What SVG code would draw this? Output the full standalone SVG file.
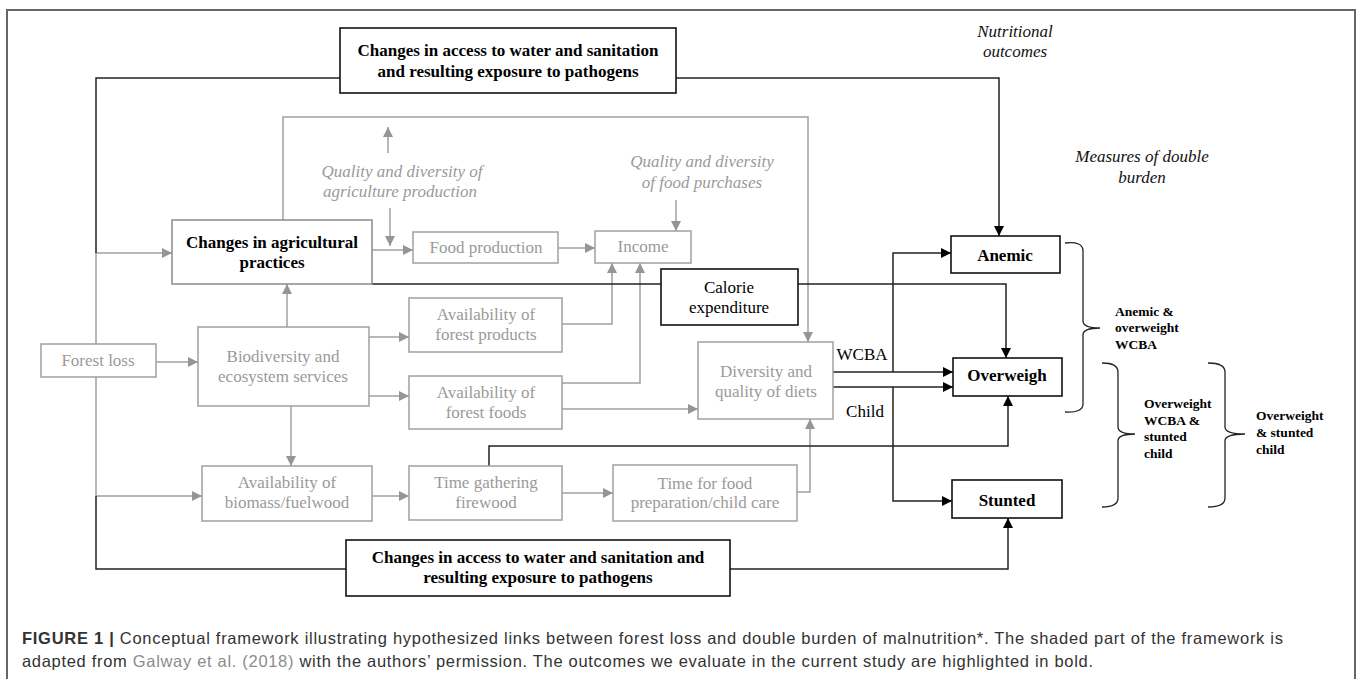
<svg xmlns="http://www.w3.org/2000/svg" width="1357" height="679" viewBox="0 0 1357 679">
<style>
.gb{fill:#fff;stroke:#a0a0a0;stroke-width:1.5}
.bb{fill:#fff;stroke:#111;stroke-width:1.6}
.gt{font-family:"Liberation Serif",serif;font-size:17px;fill:#9a9a9a;text-anchor:middle}
.bt{font-family:"Liberation Serif",serif;font-size:17px;fill:#000;text-anchor:middle;font-weight:bold}
.nt{font-family:"Liberation Serif",serif;font-size:17px;fill:#000;text-anchor:middle}
.it{font-family:"Liberation Serif",serif;font-size:17px;font-style:italic;text-anchor:middle}
.bl{font-family:"Liberation Serif",serif;font-size:13.5px;font-weight:bold;fill:#000}
.gc{fill:none;stroke:#a0a0a0;stroke-width:1.5}
.kc{fill:none;stroke:#222;stroke-width:1.5}
.br{fill:none;stroke:#222;stroke-width:1.3}
.cap{font-family:"Liberation Sans",Arial,sans-serif;font-size:16.5px;fill:#333}
</style>
<defs>
<marker id="ag" viewBox="0 0 10 10" refX="10" refY="5" markerWidth="10" markerHeight="10" markerUnits="userSpaceOnUse" orient="auto"><path d="M0,0 L10,5 L0,10 z" fill="#959595"/></marker>
<marker id="ak" viewBox="0 0 10 10" refX="10" refY="5" markerWidth="10" markerHeight="10" markerUnits="userSpaceOnUse" orient="auto"><path d="M0,0 L10,5 L0,10 z" fill="#000"/></marker>
</defs>
<rect x="0" y="0" width="1357" height="679" fill="#fff"/>
<rect x="7" y="10" width="1348" height="700" fill="none" stroke="#666" stroke-width="2"/>

<g id="connectors">
<path class="gc" d="M96,377 V253 H172" marker-end="url(#ag)"/>
<path class="gc" d="M96,377 V496 H202" marker-end="url(#ag)"/>
<path class="gc" d="M156,362 H198" marker-end="url(#ag)"/>
<path class="gc" d="M287,327 V284" marker-end="url(#ag)"/>
<path class="gc" d="M369,337 H409" marker-end="url(#ag)"/>
<path class="gc" d="M369,396 H409" marker-end="url(#ag)"/>
<path class="gc" d="M291,406 V466" marker-end="url(#ag)"/>
<path class="gc" d="M372,496 H409" marker-end="url(#ag)"/>
<path class="gc" d="M562,493 H613" marker-end="url(#ag)"/>
<path class="gc" d="M797,492 H810 V419" marker-end="url(#ag)"/>
<path class="gc" d="M562,324 H612 V263" marker-end="url(#ag)"/>
<path class="gc" d="M562,383 H640 V263" marker-end="url(#ag)"/>
<path class="gc" d="M562,409 H698" marker-end="url(#ag)"/>
<path class="gc" d="M372,250 H413" marker-end="url(#ag)"/>
<path class="gc" d="M558,248 H595" marker-end="url(#ag)"/>
<path class="gc" d="M283,220 V117 H808 V342" marker-end="url(#ag)"/>
<path class="gc" d="M388,153 V127" marker-end="url(#ag)"/>
<path class="gc" d="M390,208 V246" marker-end="url(#ag)"/>
<path class="gc" d="M676,200 V231" marker-end="url(#ag)"/>

<path class="kc" d="M340,78 H96 V253"/>
<path class="kc" d="M676,78 H999 V236" marker-end="url(#ak)"/>
<path class="kc" d="M372,284 H661"/>
<path class="kc" d="M798,284 H1006 V358" marker-end="url(#ak)"/>
<path class="kc" d="M833,372 H953" marker-end="url(#ak)"/>
<path class="kc" d="M893,372 V253 H951" marker-end="url(#ak)"/>
<path class="kc" d="M833,387 H953" marker-end="url(#ak)"/>
<path class="kc" d="M893,387 V501 H952" marker-end="url(#ak)"/>
<path class="kc" d="M489,466 V446 H1008 V396" marker-end="url(#ak)"/>
<path class="kc" d="M96,496 V569 H346"/>
<path class="kc" d="M730,569 H1008 V518" marker-end="url(#ak)"/>
</g>

<g id="water-top"><rect class="bb" x="340" y="28" width="336" height="65"/>
<text class="bt" x="508" y="56">Changes in access to water and sanitation</text>
<text class="bt" x="508" y="77">and resulting exposure to pathogens</text></g>

<g id="label-nutritional"><text class="it" x="1015" y="37" fill="#111">Nutritional</text><text class="it" x="1015" y="57" fill="#111">outcomes</text></g>
<g id="label-measures"><text class="it" x="1142" y="162" fill="#111">Measures of double</text><text class="it" x="1142" y="183" fill="#111">burden</text></g>
<g id="label-quality-agri"><text class="it" x="402" y="177" fill="#9a9a9a">Quality and diversity of</text><text class="it" x="400" y="197" fill="#9a9a9a">agriculture production</text></g>
<g id="label-quality-food"><text class="it" x="702" y="167" fill="#9a9a9a">Quality and diversity</text><text class="it" x="702" y="188" fill="#9a9a9a">of food purchases</text></g>

<g id="agric"><rect class="gb" x="172" y="220" width="200" height="64" style="stroke:#8a8a8a"/>
<text class="bt" x="272" y="248">Changes in agricultural</text><text class="bt" x="272" y="268">practices</text></g>
<g id="food-production"><rect class="gb" x="413" y="232" width="145" height="31"/><text class="gt" x="486" y="253">Food production</text></g>
<g id="income"><rect class="gb" x="595" y="231" width="96" height="32"/><text class="gt" x="643" y="252">Income</text></g>
<g id="calorie"><rect class="bb" x="661" y="269" width="137" height="56"/><text class="nt" x="729" y="293">Calorie</text><text class="nt" x="729" y="313">expenditure</text></g>
<g id="forest-loss"><rect class="gb" x="41" y="344" width="115" height="33"/><text class="gt" x="98" y="366">Forest loss</text></g>
<g id="biodiversity"><rect class="gb" x="198" y="327" width="171" height="79"/><text class="gt" x="283" y="362">Biodiversity and</text><text class="gt" x="283" y="382">ecosystem services</text></g>
<g id="forest-products"><rect class="gb" x="409" y="298" width="153" height="54"/><text class="gt" x="486" y="320">Availability of</text><text class="gt" x="486" y="340">forest products</text></g>
<g id="forest-foods"><rect class="gb" x="409" y="376" width="153" height="53"/><text class="gt" x="486" y="398">Availability of</text><text class="gt" x="486" y="418">forest foods</text></g>
<g id="diversity"><rect class="gb" x="698" y="342" width="135" height="77"/><text class="gt" x="766" y="377">Diversity and</text><text class="gt" x="766" y="397">quality of diets</text></g>
<g id="biomass"><rect class="gb" x="202" y="466" width="170" height="55"/><text class="gt" x="287" y="488">Availability of</text><text class="gt" x="287" y="508">biomass/fuelwood</text></g>
<g id="time-gathering"><rect class="gb" x="409" y="466" width="153" height="54"/><text class="gt" x="486" y="488">Time gathering</text><text class="gt" x="486" y="508">firewood</text></g>
<g id="time-food"><rect class="gb" x="613" y="465" width="184" height="56"/><text class="gt" x="705" y="489">Time for food</text><text class="gt" x="705" y="508">preparation/child care</text></g>
<g id="water-bottom"><rect class="bb" x="346" y="540" width="384" height="56"/>
<text class="bt" x="538" y="563">Changes in access to water and sanitation and</text>
<text class="bt" x="538" y="583">resulting exposure to pathogens</text></g>

<g id="anemic"><rect class="bb" x="951" y="236" width="109" height="37"/><text class="bt" x="1005" y="261">Anemic</text></g>
<g id="overweigh"><rect class="bb" x="953" y="358" width="109" height="38"/><text class="bt" x="1007" y="381">Overweigh</text></g>
<g id="stunted"><rect class="bb" x="952" y="480" width="110" height="38"/><text class="bt" x="1007" y="506">Stunted</text></g>

<g id="label-wcba"><text class="nt" x="862" y="360">WCBA</text></g>
<g id="label-child"><text class="nt" x="865" y="417">Child</text></g>

<g id="bracket-anemic-overweight">
<path class="br" d="M1065,243 Q1083,241 1083,251 V321 Q1083,328 1100,328 Q1083,328 1083,335 V404 Q1083,413 1065,412"/>
<text class="bl" x="1115" y="316">Anemic &amp;</text><text class="bl" x="1115" y="332">overweight</text><text class="bl" x="1115" y="349">WCBA</text>
</g>
<g id="bracket-wcba-stunted">
<path class="br" d="M1102,363 Q1118,363 1118,372 V427 Q1118,434 1135,434 Q1118,434 1118,441 V498 Q1118,507 1102,507"/>
<text class="bl" x="1144" y="408">Overweight</text><text class="bl" x="1144" y="425">WCBA &amp;</text><text class="bl" x="1144" y="441">stunted</text><text class="bl" x="1144" y="458">child</text>
</g>
<g id="bracket-overweight-stunted">
<path class="br" d="M1208,363 Q1225,363 1225,372 V427 Q1225,434 1245,434 Q1225,434 1225,441 V498 Q1225,507 1208,507"/>
<text class="bl" x="1256" y="420">Overweight</text><text class="bl" x="1256" y="437">&amp; stunted</text><text class="bl" x="1256" y="454">child</text>
</g>

<g id="caption">
<text class="cap" x="22" y="644" textLength="1261" lengthAdjust="spacing"><tspan font-weight="bold">FIGURE 1 |</tspan> Conceptual framework illustrating hypothesized links between forest loss and double burden of malnutrition*. The shaded part of the framework is</text>
<text class="cap" x="22" y="667" textLength="1071" lengthAdjust="spacing">adapted from <tspan fill="#8c8c8c">Galway et al. (2018)</tspan> with the authors’ permission. The outcomes we evaluate in the current study are highlighted in bold.</text>
</g>
</svg>
